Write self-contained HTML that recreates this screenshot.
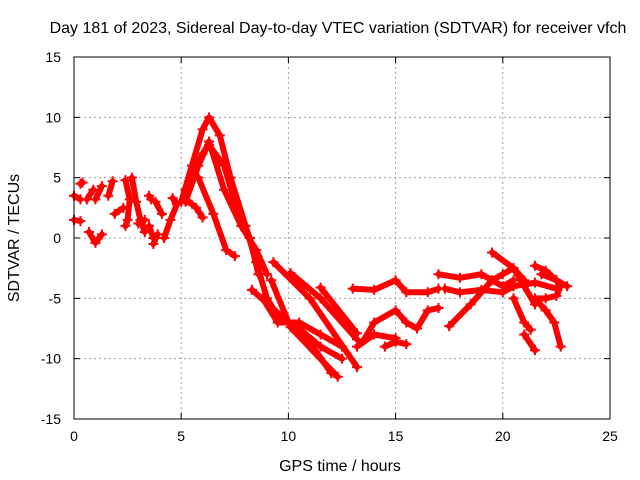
<!DOCTYPE html>
<html><head><meta charset="utf-8"><style>
body{margin:0;background:#fff}
svg{display:block;font-family:"Liberation Sans",sans-serif}
</style></head><body>
<svg id="chart" width="640" height="480">
<rect width="640" height="480" fill="#fff"/>
<text x="338" y="33" font-size="16" text-anchor="middle">Day 181 of 2023, Sidereal Day-to-day VTEC variation (SDTVAR) for receiver vfch</text>
<g id="grid"></g><g id="data"></g><g id="axes"></g>
<text x="340" y="471" font-size="16" text-anchor="middle">GPS time / hours</text>
<text transform="translate(19,238) rotate(-90)" font-size="16" text-anchor="middle">SDTVAR / TECUs</text>
</svg>
<script>
const xTicks=[0,5,10,15,20,25];
const yTicks=[-15,-10,-5,0,5,10,15];
const tracks=[
[[5.0,3],[5.5,6],[6.0,9],[6.3,10],[6.8,8.5],[7.3,5],[8.0,1],[8.5,-2],[9.0,-5],[9.5,-6.5],[10.5,-7.5],[11.5,-9],[12.5,-10]],
[[5.2,4],[6.0,7],[6.3,7.7],[7.0,6],[7.5,3],[8.2,0],[8.6,-3]],
[[5.2,3],[5.8,6],[6.3,8],[7.0,4],[7.8,1],[8.5,-1],[9.0,-3]],
[[5.8,5],[6.5,2],[7.1,-1],[7.5,-1.5]],
[[5.3,3.1],[5.7,2.5],[6.0,1.7]],
[[9.3,-2],[11,-5],[13.2,-10.7]],
[[10.1,-2.9],[11.5,-5],[13.2,-8.4]],
[[11.5,-4.1],[13.2,-7.9]],
[[8.3,-4.3],[10.9,-8.4],[12,-11.2]],
[[9.2,-3.5],[10.1,-7.4],[12.3,-11.5]],
[[8.8,-5],[9.5,-7],[10.5,-7],[11.5,-8],[12.5,-9]],
[[0,3.5],[0.3,3.2]],[[0.3,4.5],[0.4,4.6]],[[0,1.5],[0.3,1.4]],
[[0.6,3.2],[0.9,4]],[[1.0,3.2],[1.3,4.3]],[[0.7,0.5],[1.0,-0.4],[1.3,0.3]],
[[1.6,3.5],[1.8,4.7]],[[1.9,2.0],[2.3,2.5]],[[2.4,4.8],[2.6,3.2],[2.5,1.5],[2.4,1.0]],
[[2.7,5],[2.9,3],[3.1,1.5],[3.3,0.5]],[[3.0,1.2],[3.3,1.5]],[[3.5,1],[3.7,0]],
[[3.5,3.5],[3.6,3.2]],[[3.8,3],[4.1,2]],[[4.2,0],[4.5,1.5],[4.8,2.8],[4.6,3.3]],[[3.7,-0.5],[3.9,0.3]],
[[13.5,-8.5],[14,-7],[15,-6],[15.5,-7],[16,-7.5],[16.5,-6],[17,-5.8]],
[[13.2,-9],[14,-8],[15,-8.3]],[[14.5,-9],[15,-8.6],[15.5,-8.8]],
[[13.0,-4.2],[14,-4.3],[15,-3.5],[15.5,-4.5],[16.5,-4.5],[17,-4.2]],
[[17,-3],[18,-3.3],[19,-3],[20,-4],[20.5,-3.5]],
[[17.5,-7.3],[18.5,-5.5],[19.5,-3.5],[20,-3],[20.5,-2.5],[21,-3.5]],
[[19.5,-1.2],[20.5,-2.5],[21,-4],[21.5,-5.5]],
[[20.5,-5],[21,-7],[21.3,-7.6]],[[21,-8],[21.5,-9.3]],
[[21.5,-2.3],[22,-2.7],[22.5,-3.5],[22.7,-4],[22.5,-4.8],[22,-5],[21.5,-5],[22,-6],[22.4,-7],[22.7,-9]],
[[17.3,-4.2],[18,-4.5],[19,-4.3],[20,-4.5],[20.5,-4],[21.5,-3.7],[22.5,-4.2]],
[[21.8,-3],[22.5,-3.5],[23,-4]]
];
const L=74,R=610,T=57,B=419;
const xs=t=>L+(t-0)/(25-0)*(R-L);
const ys=v=>B-(v+15)/30*(B-T);
const NS='http://www.w3.org/2000/svg';
function mk(tag,attrs,parent){const e=document.createElementNS(NS,tag);for(const k in attrs)e.setAttribute(k,attrs[k]);parent.appendChild(e);return e;}
const grid=document.getElementById('grid'),axes=document.getElementById('axes'),data=document.getElementById('data');
xTicks.forEach(t=>{const x=xs(t);
 if(t>0&&t<25){const g=mk('line',{x1:x,x2:x,y1:T,y2:B,stroke:'#a0a0a0','stroke-dasharray':'2,3'},grid);
 
 }
 mk('line',{x1:x,x2:x,y1:B,y2:B-6,stroke:'#000'},axes);mk('line',{x1:x,x2:x,y1:T,y2:T+6,stroke:'#000'},axes);
 const tx=mk('text',{x:x,y:B+22,'font-size':14,'text-anchor':'middle'},axes);tx.textContent=t;
 
 });
yTicks.forEach(v=>{const y=ys(v);
 if(v>-15&&v<15){const g=mk('line',{x1:L,x2:R,y1:y,y2:y,stroke:'#a0a0a0','stroke-dasharray':'2,3'},grid);
 
 }
 mk('line',{x1:L,x2:L+6,y1:y,y2:y,stroke:'#000'},axes);mk('line',{x1:R,x2:R-6,y1:y,y2:y,stroke:'#000'},axes);
 const tx=mk('text',{x:L-13,y:y+5,'font-size':14,'text-anchor':'end'},axes);tx.textContent=v;
 
 });
const frame=mk('rect',{x:L,y:T,width:R-L,height:B-T,fill:'none',stroke:'#000'},axes);


tracks.forEach(tr=>{
 const p=mk('polyline',{points:tr.map(d=>xs(d[0])+','+ys(d[1])).join(' '),fill:'none',stroke:'#ff0000','stroke-width':6,'stroke-linejoin':'round','stroke-linecap':'round'},data);
 
 
 tr.forEach(d=>{const x=xs(d[0]),y=ys(d[1]);
  const m=mk('path',{d:`M${x-5},${y}H${x+5}M${x},${y-5}V${y+5}`,stroke:'#ff0000','stroke-width':2},data);
  
  });
});
</script>
</body></html>
